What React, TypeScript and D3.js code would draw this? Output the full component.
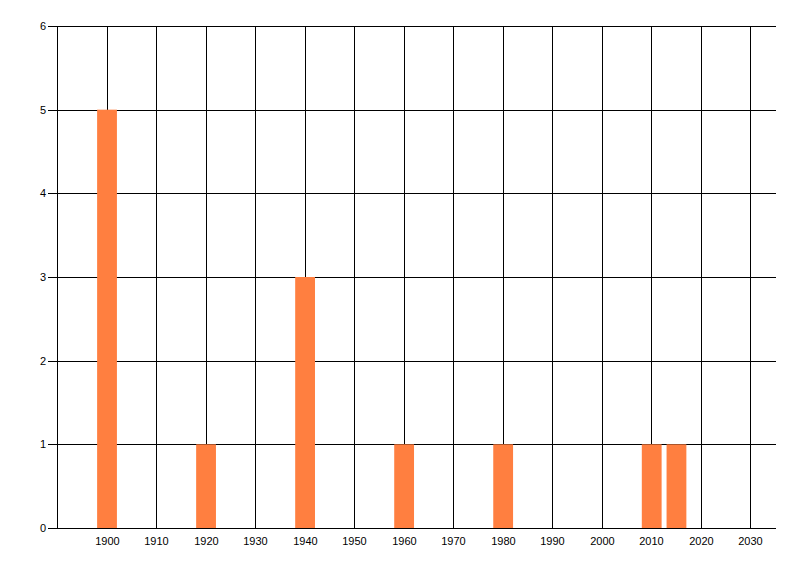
import React from "react";
import * as d3 from "d3";

const years = [1900, 1920, 1940, 1960, 1980, 2010, 2015];
const counts = [5, 1, 3, 1, 1, 1, 1];
const xTicks = [1900, 1910, 1920, 1930, 1940, 1950, 1960, 1970, 1980, 1990, 2000, 2010, 2020, 2030];
const yTicks = [0, 1, 2, 3, 4, 5, 6];

const W = 800;
const H = 576;

export default function App() {
  const x = d3.scaleLinear().domain([1890, 2035]).range([57.5, 775.5]);
  const y = d3.scaleLinear().domain([0, 6]).range([528.5, 26.5]);
  const px = (v: number) => Math.floor(x(v)) + 0.5;
  const py = (v: number) => Math.round(y(v) - 0.5) + 0.5;
  const left = 57.5;
  const right = 776;
  const font = "'Liberation Sans', Arial, sans-serif";
  return (
    <div style={{ position: "absolute", left: 0, top: 0 }}>
      <svg width={W} height={H} style={{ display: "block", background: "#fff" }}>
        {yTicks.map((t) => (
          <g key={"y" + t}>
            <line x1={48} x2={right} y1={py(t)} y2={py(t)} stroke="#000" strokeWidth={1} />
            <text x={46} y={py(t)} dy="0.35em" textAnchor="end" fontFamily={font} fontSize={11} fill="#000">
              {t}
            </text>
          </g>
        ))}
        {xTicks.map((t) => (
          <g key={"x" + t}>
            <line x1={px(t)} x2={px(t)} y1={py(6)} y2={py(0)} stroke="#000" strokeWidth={1} />
            <text x={px(t)} y={545} textAnchor="middle" fontFamily={font} fontSize={11} fill="#000">
              {t}
            </text>
          </g>
        ))}
        <line x1={left} x2={left} y1={py(6)} y2={py(0)} stroke="#000" strokeWidth={1} />
        {years.map((yr, i) => (
          <rect
            key={"b" + yr}
            x={x(yr - 2)}
            width={x(yr + 2) - x(yr - 2)}
            y={y(counts[i]) - 0.5}
            height={y(0) - y(counts[i])}
            fill="#ff7f40"
          />
        ))}
        <line x1={48} x2={right} y1={py(0)} y2={py(0)} stroke="#000" strokeWidth={1} />
      </svg>
    </div>
  );
}
